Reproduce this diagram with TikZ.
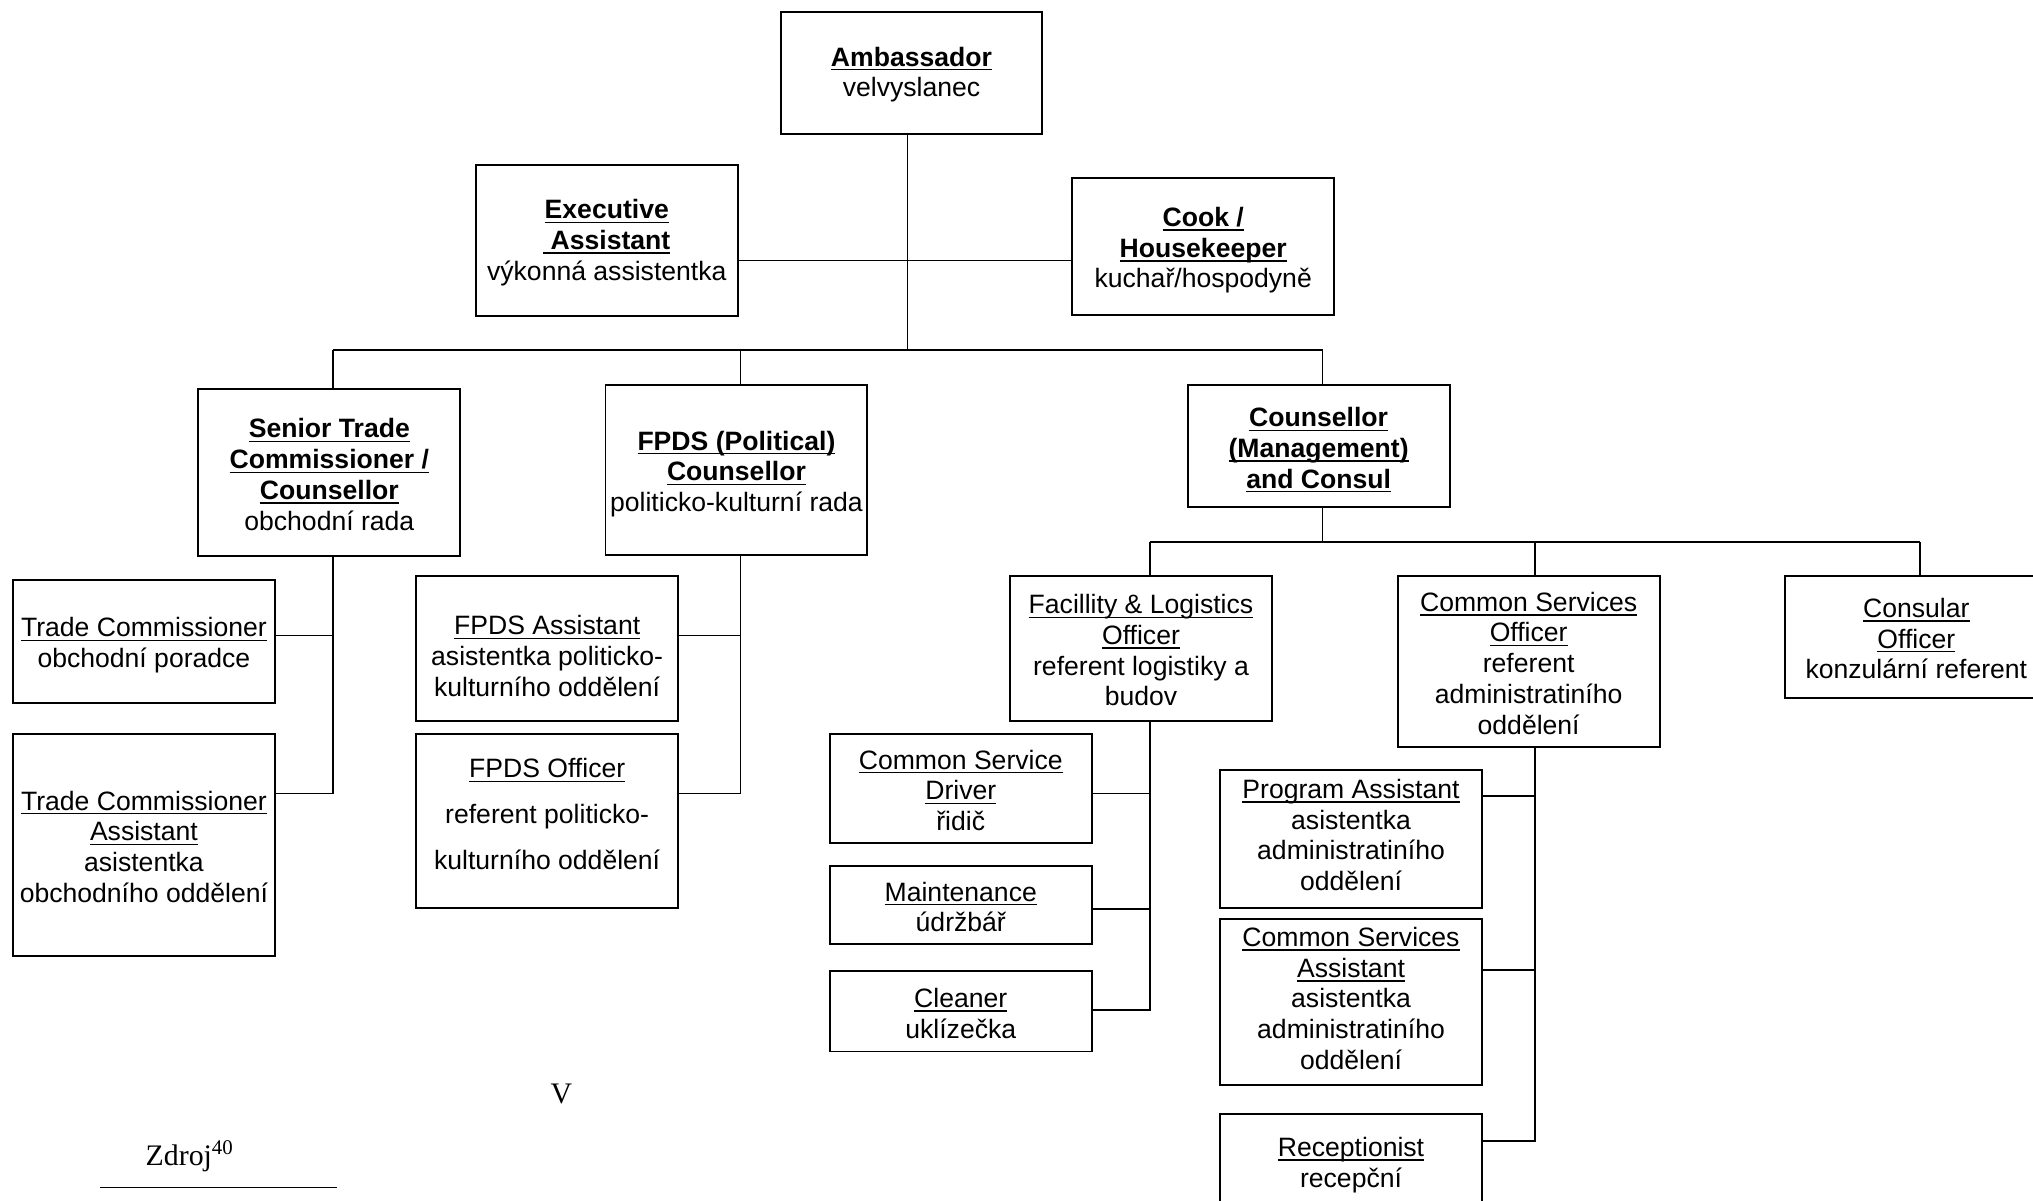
\documentclass[tikz,border=0pt]{standalone}
\usepackage{fontspec}
\setmainfont{Liberation Sans}
\newfontfamily\serifrm{Liberation Serif}
% underline drawn at a fixed depth below the baseline
\newcommand\uln[1]{\setbox0\hbox{#1}\rlap{\rule[-1.7pt]{\wd0}{0.55pt}}\box0}
\begin{document}
\begin{tikzpicture}[x=0.5pt,y=-0.5pt,
  box/.style={draw, line width=0.75pt, minimum width=101pt, minimum height=#1, inner sep=0pt},
  txt/.style={align=center, inner sep=0pt, yshift=-0.75pt,
    font=\fontsize{10.25pt}{11.85pt}\selectfont},
  link/.style={line width=0.6pt},
  note/.style={font=\serifrm\fontsize{11.5pt}{13pt}\selectfont, inner sep=0pt}]
\useasboundingbox (0,0) rectangle (1568,926);

% top level
\node[box=47pt, label={[txt]center:{\uln{\textbf{Ambassador}}\\velvyslanec}}] (amb) at (703,56) {};
\node[box=58.5pt, label={[txt]center:{\uln{\textbf{Executive}}\\\uln{\textbf{~Assistant}}\\výkonná assistentka}}] (exec) at (468,185.5) {};
\node[box=53pt, label={[txt, yshift=-0.75pt]center:{\uln{\textbf{Cook /}}\\\uln{\textbf{Housekeeper}}\\kuchař/hospodyně}}] (cook) at (928,190) {};

% second level
\node[box=64.5pt, label={[txt]center:{\uln{\textbf{Senior Trade}}\\\uln{\textbf{Commissioner /}}\\\uln{\textbf{Counsellor}}\\obchodní rada}}] (sen) at (254,364.5) {};
\node[box=65.5pt, label={[txt, yshift=-0.75pt]center:{\uln{\textbf{FPDS (Political)}}\\\uln{\textbf{Counsellor}}\\politicko-kulturní rada}}] (fpds) at (568,362.5) {};
\node[box=47pt, label={[txt, yshift=-0.75pt]center:{\uln{\textbf{Counsellor}}\\\uln{\textbf{(Management)}}\\\uln{\textbf{and Consul}}}}] (cmc) at (1017,344) {};

% trade section
\node[box=47.5pt, label={[txt, yshift=-0.75pt]center:{\uln{Trade Commissioner}\\obchodní poradce}}] (tc) at (111,494.5) {};
\node[box=85.5pt, label={[txt]center:{\uln{Trade Commissioner}\\\uln{Assistant}\\asistentka\\obchodního oddělení}}] (tca) at (111,651.5) {};

% political section
\node[box=56pt, label={[txt, yshift=-2.25pt]center:{\uln{FPDS Assistant}\\asistentka politicko-\\kulturního oddělení}}] (fa) at (422,500) {};
\node[box=67pt, label={[txt, yshift=3.25pt]center:{\uln{FPDS Officer}\\[5.9pt]referent politicko-\\[5.9pt]kulturního oddělení}}] (fo) at (422,633) {};

% management section
\node[box=56pt, label={[txt]center:{\uln{Facillity \& Logistics}\\\uln{Officer}\\referent logistiky a\\budov}}] (fl) at (880,500) {};
\node[box=66pt, label={[txt]center:{\uln{Common Services}\\\uln{Officer}\\referent\\administratiního\\oddělení}}] (cso) at (1179,510) {};
\node[box=47pt, label={[txt]center:{\uln{Consular}\\\uln{Officer}\\konzulární referent}}] (con) at (1478,491) {};

\node[box=42pt, label={[txt]center:{\uln{Common Service}\\\uln{Driver}\\řidič}}] (drv) at (741,608) {};
\node[box=30pt, label={[txt]center:{\uln{Maintenance}\\údržbář}}] (mnt) at (741,698) {};
\node[box=31pt, label={[txt]center:{\uln{Cleaner}\\uklízečka}}] (cln) at (741,780) {};

\node[box=53pt, label={[txt, yshift=2.25pt]center:{\uln{Program Assistant}\\asistentka\\administratiního\\oddělení}}] (pa) at (1042,647) {};
\node[box=64pt, label={[txt, yshift=2.25pt]center:{\uln{Common Services}\\\uln{Assistant}\\asistentka\\administratiního\\oddělení}}] (csa) at (1042,773) {};
\node[box=36.5pt, label={[txt, yshift=-0.75pt]center:{\uln{Receptionist}\\recepční}}] (rec) at (1042,895.5) {};

% connectors: top
\coordinate (hub) at (700,270);
\coordinate (side) at (700,201);
\draw[link] (amb.south -| hub) -- (hub);
\draw[link] (exec.east |- side) -- (cook.west |- side);
\coordinate (busL) at (257,270);
\coordinate (busM) at (571,270);
\coordinate (busR) at (1020,270);
\draw[link] (busL) -- (busR);
\draw[link] (busL) -- (busL |- sen.north);
\draw[link] (busM) -- (busM |- fpds.north);
\draw[link] (busR) -- (busR |- cmc.north);

% trade branch
\coordinate (st1) at (257,490);
\coordinate (st2) at (257,612);
\draw[link] (st1 |- sen.south) -- (st2) -- (st2 -| tca.east);
\draw[link] (st1) -- (st1 -| tc.east);

% political branch
\coordinate (pf1) at (571,490);
\coordinate (pf2) at (571,612);
\draw[link] (pf1 |- fpds.south) -- (pf2) -- (pf2 -| fo.east);
\draw[link] (pf1) -- (pf1 -| fa.east);

% management branch
\coordinate (cm) at (1020,418);
\coordinate (cmL) at (887,418);
\coordinate (cmM) at (1184,418);
\coordinate (cmR) at (1481,418);
\draw[link] (cm |- cmc.south) -- (cm);
\draw[link] (cmL) -- (cmR);
\draw[link] (cmL) -- (cmL |- fl.north);
\draw[link] (cmM) -- (cmM |- cso.north);
\draw[link] (cmR) -- (cmR |- con.north);

% facility branch
\coordinate (f1) at (887,612);
\coordinate (f2) at (887,701);
\coordinate (f3) at (887,779);
\draw[link] (f1 |- fl.south) -- (f3) -- (f3 -| cln.east);
\draw[link] (f1) -- (f1 -| drv.east);
\draw[link] (f2) -- (f2 -| mnt.east);

% common services branch
\coordinate (c1) at (1184,614);
\coordinate (c2) at (1184,748);
\coordinate (c3) at (1184,880);
\draw[link] (c1 |- cso.south) -- (c3) -- (c3 -| rec.east);
\draw[link] (c1) -- (c1 -| pa.east);
\draw[link] (c2) -- (c2 -| csa.east);

% page text below the chart
\node[note, anchor=base] (vmark) at (433,851) {V};
\node[note, anchor=base west] (src) at (112,899) {Zdroj\textsuperscript{40}};
\coordinate (fnL) at (77,916);
\coordinate (fnR) at (260,916);
\draw[line width=0.4pt] (fnL) -- (fnR);
\end{tikzpicture}
\end{document}
